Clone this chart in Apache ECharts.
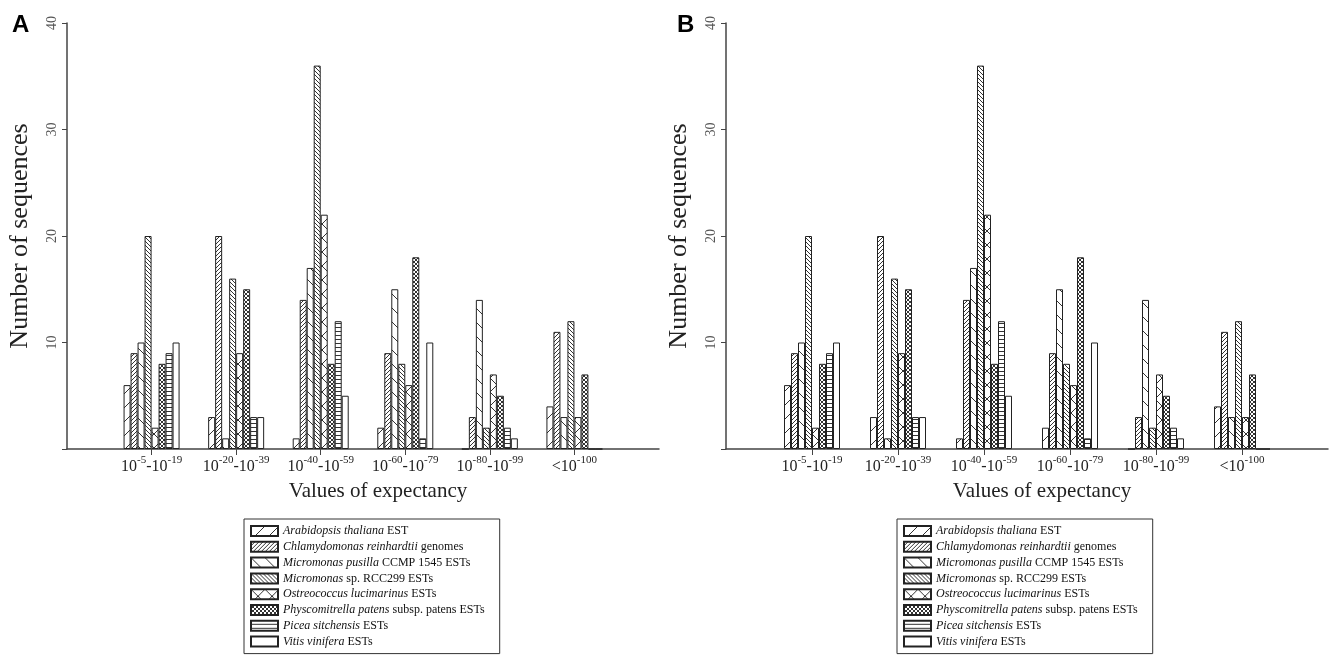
<!DOCTYPE html>
<html>
<head>
<meta charset="utf-8">
<script src="https://cdn.jsdelivr.net/npm/echarts@6/dist/echarts.min.js"></script>
<style>
  html, body { margin: 0; padding: 0; background: #fff; }
  #root { width: 1335px; height: 655px; }
</style>
</head>
<body>
<div id="root"></div>
<script>
// x categories (^{..} marks a superscript)
const categories = ['10^{-5}-10^{-19}', '10^{-20}-10^{-39}', '10^{-40}-10^{-59}', '10^{-60}-10^{-79}', '10^{-80}-10^{-99}', '<10^{-100}'];

// number of sequences per category (same in A and B)
const arabidopsis = [6, 3, 1, 2, 0, 4];
const chlamydomonas = [9, 20, 14, 9, 3, 11];
const micromonasPusilla = [10, 1, 17, 15, 14, 3];
const micromonasSp = [20, 16, 36, 8, 2, 12];
const ostreococcus = [2, 9, 22, 6, 7, 3];
const physcomitrella = [8, 15, 8, 18, 5, 7];
const picea = [9, 3, 12, 1, 2, 0];
const vitis = [10, 3, 5, 10, 1, 0];

const yTicks = [0, 10, 20, 30, 40];

const speciesItalic = ['Arabidopsis thaliana', 'Chlamydomonas reinhardtii', 'Micromonas pusilla', 'Micromonas', 'Ostreococcus lucimarinus', 'Physcomitrella patens', 'Picea sitchensis', 'Vitis vinifera'];
const speciesRest = [' EST', ' genomes', ' CCMP 1545 ESTs', ' sp. RCC299 ESTs', ' ESTs', ' subsp. patens ESTs', ' ESTs', ' ESTs'];
const seriesValues = [arabidopsis, chlamydomonas, micromonasPusilla, micromonasSp, ostreococcus, physcomitrella, picea, vitis];
const hatchKinds = ['sparseFwd', 'denseFwd', 'sparseBack', 'denseBack', 'zigzag', 'cross', 'horiz', 'none'];

const SERIF = '"Liberation Serif", "DejaVu Serif", serif';
const INK = '#222';

// small canvas tiles used as repeating fills
function hatch(kind) {
  const sizes = { sparseFwd: 14, denseFwd: 4, sparseBack: 14, denseBack: 4, zigzag: 14, cross: 4, horiz: 4, none: 4 };
  const s = sizes[kind];
  const c = document.createElement('canvas');
  c.width = s; c.height = s;
  const ctx = c.getContext('2d');
  ctx.fillStyle = '#fff';
  ctx.fillRect(0, 0, s, s);
  ctx.strokeStyle = '#333';
  ctx.lineWidth = 1;
  const fwd = () => {
    ctx.beginPath();
    ctx.moveTo(0, s); ctx.lineTo(s, 0);
    ctx.moveTo(-2, 2); ctx.lineTo(2, -2);
    ctx.moveTo(s - 2, s + 2); ctx.lineTo(s + 2, s - 2);
    ctx.stroke();
  };
  const back = () => {
    ctx.beginPath();
    ctx.moveTo(0, 0); ctx.lineTo(s, s);
    ctx.moveTo(s - 2, -2); ctx.lineTo(s + 2, 2);
    ctx.moveTo(-2, s - 2); ctx.lineTo(2, s + 2);
    ctx.stroke();
  };
  if (kind === 'sparseFwd' || kind === 'denseFwd') fwd();
  if (kind === 'sparseBack' || kind === 'denseBack') back();
  if (kind === 'zigzag' || kind === 'cross') { fwd(); back(); }
  if (kind === 'horiz') {
    ctx.beginPath();
    ctx.moveTo(0, s - 0.5); ctx.lineTo(s, s - 0.5);
    ctx.stroke();
  }
  return { image: c, repeat: 'repeat' };
}

const fills = hatchKinds.map(hatch);
const names = speciesItalic.map((it, i) => it + speciesRest[i]);

const panels = [
  { title: 'A', titleLeft: 7, gridLeft: 67, gridRight: 676, legendLeft: 244 },
  { title: 'B', titleLeft: 672, gridLeft: 726, gridRight: 7, legendLeft: 897 }
];

const xCats = ['', ...categories, ''];

const labelRich = {
  b: { fontFamily: SERIF, fontSize: 16, color: INK, lineHeight: 20, verticalAlign: 'bottom' },
  s: { fontFamily: SERIF, fontSize: 11, color: INK, verticalAlign: 'top' }
};

const toRich = v => {
  if (!v) return '';
  return v.split(/(\^\{[^}]*\})/).filter(p => p).map(p =>
    p.startsWith('^{') ? '{s|' + p.slice(2, -1) + '}' : '{b|' + p + '}'
  ).join('');
};

const legendNameToRich = name => {
  const i = names.indexOf(name);
  return '{i|' + speciesItalic[i] + '}{n|' + speciesRest[i] + '}';
};

const option = {
  animation: false,
  backgroundColor: '#fff',
  title: panels.map(p => ({
    text: p.title,
    left: p.titleLeft,
    top: 8,
    textStyle: { fontFamily: '"Liberation Sans", Arial, sans-serif', fontSize: 24, fontWeight: 'bold', color: '#000' }
  })),
  legend: panels.map(p => ({
    data: names,
    orient: 'vertical',
    left: p.legendLeft,
    top: 519,
    padding: [5, 15, 5, 6],
    itemGap: 1.8,
    itemWidth: 27,
    itemHeight: 10,
    icon: 'rect',
    borderColor: '#333',
    borderWidth: 1,
    selectedMode: false,
    formatter: legendNameToRich,
    textStyle: {
      fontFamily: SERIF,
      fontSize: 12,
      lineHeight: 14,
      color: '#111',
      rich: {
        i: { fontFamily: SERIF, fontSize: 12, fontStyle: 'italic', color: '#111' },
        n: { fontFamily: SERIF, fontSize: 12, color: '#111' }
      }
    }
  })),
  grid: panels.map(p => ({ left: p.gridLeft, right: p.gridRight, top: 23, bottom: 206, containLabel: false })),
  xAxis: panels.map((p, i) => ({
    type: 'category',
    gridIndex: i,
    data: xCats,
    boundaryGap: false,
    name: 'Values of expectancy',
    nameLocation: 'middle',
    nameGap: 32,
    nameTextStyle: { fontFamily: SERIF, fontSize: 21, color: INK, padding: [0, 0, 0, 30] },
    axisLine: { lineStyle: { color: '#444', width: 1.5 } },
    axisTick: { show: true, length: 6, interval: idx => idx > 0 && idx < xCats.length - 1, lineStyle: { color: '#444' } },
    axisLabel: { interval: 0, margin: 6, formatter: toRich, rich: labelRich },
    splitLine: { show: false }
  })),
  yAxis: panels.map((p, i) => ({
    type: 'value',
    gridIndex: i,
    min: yTicks[0],
    max: yTicks[yTicks.length - 1],
    interval: 10,
    name: 'Number of sequences',
    nameLocation: 'middle',
    nameGap: 34,
    nameRotate: 90,
    nameTextStyle: { fontFamily: SERIF, fontSize: 26, color: INK },
    axisLine: { show: true, lineStyle: { color: '#444', width: 1.5 } },
    axisTick: { show: true, length: 5, lineStyle: { color: '#444' } },
    axisLabel: {
      rotate: 90,
      margin: 8,
      fontFamily: SERIF,
      fontSize: 14,
      color: '#555',
      formatter: v => (v === 0 ? '' : String(v))
    },
    splitLine: { show: false }
  })),
  series: panels.flatMap((p, pi) => seriesValues.map((vals, si) => ({
    name: names[si],
    type: 'bar',
    xAxisIndex: pi,
    yAxisIndex: pi,
    barWidth: 7,
    barGap: '0%',
    data: ['-', ...vals, '-'],
    itemStyle: { color: fills[si], borderColor: '#222', borderWidth: 1 },
    emphasis: { disabled: true }
  })))
};

const chart = echarts.init(document.getElementById('root'));
chart.setOption(option);
window.onresize = () => chart.resize();
</script>
</body>
</html>
